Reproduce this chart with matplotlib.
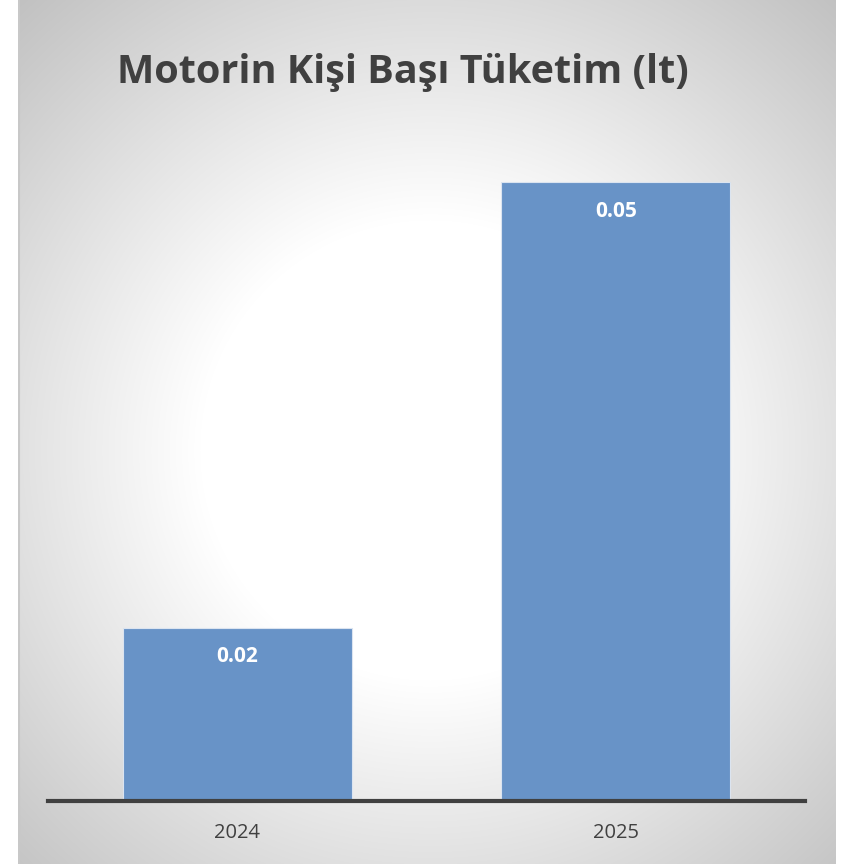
import numpy as np
import matplotlib.pyplot as plt

# chart data
years = ["2024", "2025"]
values = [0.0151, 0.054]
labels = ["0.02", "0.05"]

W, H, DPI = 849, 864, 100
fig = plt.figure(figsize=(W / DPI, H / DPI), dpi=DPI)
fig.patch.set_facecolor("white")

# radial gradient background (chart area x 18..836)
bg = fig.add_axes([18 / W, 0, (836 - 18) / W, 1])
bg.set_axis_off()
gx, gy = np.meshgrid(np.arange(18, 836), np.arange(0, H))
r = np.hypot(gx - 430, gy - 450)
shade = 1 - 0.00064 * np.clip(r - 230, 0, None)
shade = np.clip(shade, 0.74, 1)
bg.imshow(np.dstack([shade] * 3), aspect="auto", extent=[0, 1, 0, 1])
bg.set_xlim(0, 1)
bg.set_ylim(0, 1)
bg.plot([0.001, 0.001], [0, 1], color="#c8c8c8", lw=1.5)

# bar axes
top_px, base_px = 100, 801
ax = fig.add_axes([48 / W, (H - base_px) / H, (805 - 48) / W, (base_px - top_px) / H])
ax.patch.set_alpha(0)
x = np.arange(len(years))
bars = ax.bar(x, values, width=0.604, color="#6893c7", edgecolor="#dbe4f0", linewidth=0.8)
ax.set_xlim(-0.5, 1.5)
ax.set_ylim(0, values[1] * (base_px - top_px) / (base_px - 182))

for b, lab in zip(bars, labels):
    ax.annotate(lab, (b.get_x() + b.get_width() / 2, b.get_height()),
                xytext=(0, -29), textcoords="offset pixels",
                ha="center", va="center", color="white", fontsize=15,
                fontweight="bold", family="Open Sans")

for s in ["top", "left", "right"]:
    ax.spines[s].set_visible(False)
ax.spines["bottom"].set_color("#404040")
ax.spines["bottom"].set_linewidth(3)
ax.set_yticks([])
ax.set_xticks(x)
ax.set_xticklabels(years, fontsize=14.5, color="#404040", family="Open Sans")
ax.tick_params(axis="x", length=0, pad=16)

fig.text(403 / W, 1 - 72 / H, "Motorin Kişi Başı Tüketim (lt)", ha="center", va="center",
         fontsize=28.5, fontweight="bold", color="#404040", family="Open Sans")

fig.savefig("out.png", dpi=DPI)
